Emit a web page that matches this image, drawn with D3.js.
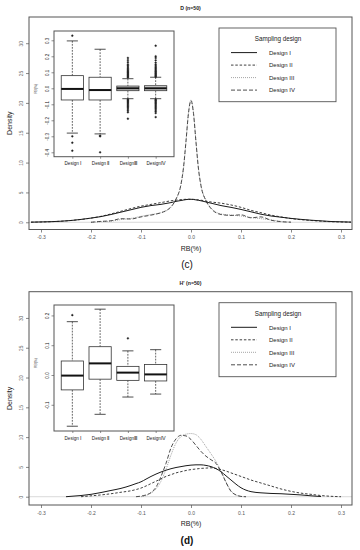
<!DOCTYPE html>
<html>
<head>
<meta charset="utf-8">
<script src="https://cdn.jsdelivr.net/npm/d3@7"></script>
<style>
  body { margin: 0; background: #fff; }
  text { font-family: "Liberation Sans", Arial, sans-serif; }
</style>
</head>
<body>
<div id="chart"></div>
<script>
// ---------- values ----------
var designs = ["Design I", "Design II", "Design III", "Design IV"];
var boxLabels = ["Design \u2160", "Design \u2161", "Design\u2162", "Design\u2163"];
var xTicks = [-0.3, -0.2, -0.1, 0, 0.1, 0.2, 0.3];
var yTicks = [0, 5, 10, 15, 20, 25, 30];

// panel (c): D (n=50)
var gridC = [-0.32, -0.28, -0.24, -0.2, -0.18, -0.16, -0.14, -0.12, -0.1, -0.08, -0.06, -0.05, -0.04, -0.03,
             -0.02, -0.015, -0.01, -0.005, 0, 0.005, 0.01, 0.015, 0.02, 0.03, 0.04, 0.05, 0.06, 0.08, 0.1,
             0.12, 0.14, 0.16, 0.18, 0.2, 0.24, 0.28, 0.32];
var densC1 = [0.02, 0.1, 0.3, 0.7, 0.95, 1.3, 1.7, 2.1, 2.5, 2.8, 3.0, 3.15, 3.3, 3.5,
              3.65, 3.72, 3.8, 3.84, 3.85, 3.82, 3.75, 3.68, 3.6, 3.4, 3.2, 3.0, 2.8, 2.5, 2.15,
              1.75, 1.35, 1.05, 0.85, 0.65, 0.35, 0.13, 0.03];
var densC2 = [0.02, 0.1, 0.3, 0.7, 1.0, 1.4, 1.85, 2.3, 2.7, 3.0, 3.3, 3.45, 3.6, 3.7,
              3.8, 3.83, 3.85, 3.86, 3.86, 3.84, 3.8, 3.75, 3.7, 3.55, 3.4, 3.3, 3.2, 2.9, 2.5,
              2.0, 1.6, 1.2, 0.9, 0.62, 0.3, 0.1, 0.02];
var densC3 = [null, null, null, 0.0, 0.1, 0.2, 0.45, 0.65, 1.0, 1.3, 1.6, 1.9, 2.5, 3.8,
              6.3, 9.0, 13.5, 18.4, 20.5, 18.4, 13.5, 9.0, 6.2, 3.7, 2.4, 1.7, 1.4, 1.2, 1.05,
              0.8, 0.6, 0.4, 0.15, 0.03, null, null, null];
var densC4 = [null, null, null, 0.0, 0.15, 0.25, 0.6, 0.55, 0.9, 1.2, 1.6, 1.95, 2.6, 3.9,
              6.4, 9.2, 13.6, 18.3, 20.4, 18.2, 13.4, 8.9, 6.1, 3.6, 2.3, 1.6, 1.3, 1.15, 1.25,
              0.75, 0.9, 0.35, 0.1, 0.02, null, null, null];
// box stats: low whisker, Q1, median, Q3, high whisker
var boxC = [[-0.28, -0.073, -0.004, 0.079, 0.296],
            [-0.285, -0.073, -0.011, 0.069, 0.244],
            [-0.065, -0.015, 0.0, 0.014, 0.06],
            [-0.065, -0.015, 0.0, 0.016, 0.069]];
var outC = [[0.329, -0.30, -0.34, -0.39],
            [-0.296, -0.30, -0.40],
            [0.068, 0.072, 0.078, 0.083, 0.088, 0.094, 0.099, 0.104, 0.11, 0.117, 0.125, 0.133, 0.142, 0.15,
             0.163, 0.176, 0.19, -0.07, -0.075, -0.081, -0.087, -0.093, -0.1, -0.108, -0.115, -0.122, -0.13,
             -0.14, -0.15, -0.19],
            [0.072, 0.077, 0.082, 0.088, 0.093, 0.099, 0.105, 0.11, 0.118, 0.125, 0.132, 0.14, 0.148, 0.16,
             0.175, 0.19, 0.2, 0.266, -0.07, -0.075, -0.08, -0.086, -0.092, -0.098, -0.105, -0.112, -0.12,
             -0.128, -0.136, -0.145, -0.155, -0.18]];
var boxTicksC = [-0.4, -0.3, -0.2, -0.1, 0, 0.1, 0.2, 0.3];

// panel (d): H' (n=50)
var gridD = [-0.25, -0.24, -0.22, -0.2, -0.18, -0.16, -0.14, -0.12, -0.11, -0.1, -0.09, -0.08, -0.07, -0.06,
             -0.05, -0.04, -0.03, -0.02, -0.01, 0, 0.01, 0.02, 0.03, 0.04, 0.05, 0.06, 0.07, 0.08, 0.09,
             0.1, 0.11, 0.12, 0.14, 0.16, 0.18, 0.2, 0.22, 0.24, 0.26, 0.28, 0.3];
var densD1 = [0.0, 0.07, 0.2, 0.4, 0.7, 1.05, 1.4, 1.9, 2.2, 2.5, 2.95, 3.4, 3.8, 4.15,
              4.45, 4.7, 4.9, 5.05, 5.2, 5.3, 5.35, 5.35, 5.25, 5.05, 4.7, 4.2, 3.5, 2.8, 2.1,
              1.5, 1.1, 0.85, 0.65, 0.55, 0.5, 0.4, 0.3, 0.15, 0.03, null, null];
var densD2 = [null, null, 0.0, 0.15, 0.3, 0.5, 0.75, 1.0, 1.2, 1.45, 1.8, 2.2, 2.6, 3.0,
              3.4, 3.7, 4.0, 4.2, 4.4, 4.55, 4.65, 4.75, 4.8, 4.85, 4.75, 4.55, 4.3, 4.0, 3.7,
              3.4, 3.1, 2.8, 2.3, 1.8, 1.3, 0.9, 0.6, 0.4, 0.2, 0.07, 0.0];
var densD3 = [null, null, null, null, null, null, null, null, null, 0.0, 0.2, 0.6, 1.3, 2.6,
              4.6, 7.0, 9.0, 10.1, 10.5, 10.6, 10.4, 9.6, 8.4, 7.2, 5.9, 4.3, 2.5, 1.0, 0.3,
              0.05, 0.0, null, null, null, null, null, null, null, null, null, null];
var densD4 = [null, null, null, null, null, null, null, null, 0.0, 0.1, 0.3, 0.7, 1.6, 3.4,
              5.6, 8.2, 9.7, 10.3, 10.2, 9.6, 8.6, 7.6, 6.8, 6.2, 5.6, 4.2, 2.4, 0.9, 0.3,
              0.05, 0.0, null, null, null, null, null, null, null, null, null, null];
var boxD = [[-0.172, -0.05, -0.002, 0.047, 0.179],
            [-0.132, -0.014, 0.039, 0.095, 0.221],
            [-0.074, -0.018, 0.008, 0.029, 0.081],
            [-0.064, -0.02, 0.002, 0.035, 0.085]];
var outD = [[0.201], [], [0.123], []];
var boxTicksD = [-0.1, 0, 0.1, 0.2];

// ---------- drawing ----------
var width = 360, height = 550;
var svg = d3.select("#chart").append("svg")
    .attr("width", width)
    .attr("height", height);

// line look of each design (solid, dashed, dotted, long dash)
var styles = [
  {color: "#1a1a1a", w: 1.0, dash: null},
  {color: "#2a2a2a", w: 0.9, dash: "2.5,1.8"},
  {color: "#9a9a9a", w: 0.9, dash: "1,1"},
  {color: "#3a3a3a", w: 0.9, dash: "4,2"}
];

var fmt1 = function(d) { return d.toFixed(1); };

function drawPanel(p) {
  var g = svg.append("g");

  var x = d3.scaleLinear().domain([-0.324, 0.322]).range([p.left, p.right]);
  var y = d3.scaleLinear().domain(p.yDomain).range([p.bottom, p.top]);

  // light line at zero density
  g.append("line")
    .attr("x1", p.left).attr("x2", p.right)
    .attr("y1", y(0)).attr("y2", y(0))
    .attr("stroke", "#cfcfcf").attr("stroke-width", 0.8);

  var line = d3.line()
    .defined(function(d) { return d[1] != null; })
    .x(function(d) { return x(d[0]); })
    .y(function(d) { return y(d[1]); })
    .curve(d3.curveMonotoneX);

  [2, 3, 1, 0].forEach(function(i) {
    var pts = p.grid.map(function(v, j) { return [v, p.curves[i][j]]; });
    g.append("path")
      .datum(pts)
      .attr("d", line)
      .attr("fill", "none")
      .attr("stroke", styles[i].color)
      .attr("stroke-width", styles[i].w)
      .attr("stroke-dasharray", styles[i].dash);
  });

  // X axis
  var gx = g.append("g")
    .attr("transform", "translate(0," + p.bottom + ")")
    .call(d3.axisBottom(x).tickValues(xTicks).tickSize(3).tickPadding(3).tickFormat(fmt1));
  gx.select(".domain").remove();
  gx.selectAll("line").attr("stroke", "#555").attr("stroke-width", 0.7);
  gx.selectAll("text").attr("font-size", 5).attr("fill", "#555")
    .attr("font-family", "Liberation Sans, Arial, sans-serif");

  // Y axis, labels turned like R
  var gy = g.append("g")
    .attr("transform", "translate(" + p.left + ",0)")
    .call(d3.axisLeft(y).tickValues(yTicks).tickSize(3));
  gy.select(".domain").remove();
  gy.selectAll("line").attr("stroke", "#555").attr("stroke-width", 0.7);
  gy.selectAll("text")
    .attr("transform", "rotate(-90)")
    .attr("x", 0).attr("y", -6.5).attr("dy", 0)
    .attr("text-anchor", "middle")
    .attr("font-size", 4.8).attr("fill", "#666")
    .attr("font-family", "Liberation Sans, Arial, sans-serif");

  // box
  g.append("rect")
    .attr("x", p.left).attr("y", p.top)
    .attr("width", p.right - p.left).attr("height", p.bottom - p.top)
    .attr("fill", "none").attr("stroke", "#555").attr("stroke-width", 1);

  // labels
  g.append("text")
    .attr("x", (p.left + p.right) / 2).attr("y", p.top - 7)
    .attr("text-anchor", "middle").attr("font-size", 5.2).attr("font-weight", "bold")
    .attr("fill", "#222")
    .text(p.title);
  g.append("text")
    .attr("transform", "translate(12," + ((p.top + p.bottom) / 2) + ")rotate(-90)")
    .attr("text-anchor", "middle").attr("font-size", 7).attr("fill", "#222")
    .text("Density");
  g.append("text")
    .attr("x", x(0)).attr("y", p.bottom + 21)
    .attr("text-anchor", "middle").attr("font-size", 7).attr("fill", "#222")
    .text("RB(%)");
  g.append("text")
    .attr("x", 187).attr("y", p.bottom + 38.5)
    .attr("text-anchor", "middle").attr("font-size", 10)
    .attr("font-family", "Liberation Serif, serif")
    .attr("font-weight", p.tagBold ? "bold" : "normal")
    .attr("fill", "#111")
    .text(p.tag);

  // ---- inset boxplot ----
  var ib = p.inset;
  var bx = d3.scaleLinear().domain([0.34, 4.66]).range([ib.left, ib.right]);
  var by = d3.scaleLinear().domain(ib.yDomain).range([ib.bottom, ib.top]);
  var gi = g.append("g");
  gi.append("rect")
    .attr("x", ib.left).attr("y", ib.top)
    .attr("width", ib.right - ib.left).attr("height", ib.bottom - ib.top)
    .attr("fill", "#fff");

  var half = (bx(1.4) - bx(1)) ;
  p.boxes.forEach(function(s, i) {
    var cx = bx(i + 1);
    // whiskers
    gi.append("line").attr("x1", cx).attr("x2", cx).attr("y1", by(s[4])).attr("y2", by(s[3]))
      .attr("stroke", "#222").attr("stroke-width", 0.7).attr("stroke-dasharray", "1.8,1.2");
    gi.append("line").attr("x1", cx).attr("x2", cx).attr("y1", by(s[1])).attr("y2", by(s[0]))
      .attr("stroke", "#222").attr("stroke-width", 0.7).attr("stroke-dasharray", "1.8,1.2");
    [s[0], s[4]].forEach(function(v) {
      gi.append("line").attr("x1", cx - half / 2).attr("x2", cx + half / 2)
        .attr("y1", by(v)).attr("y2", by(v))
        .attr("stroke", "#222").attr("stroke-width", 0.8);
    });
    gi.append("rect")
      .attr("x", cx - half).attr("y", by(s[3]))
      .attr("width", 2 * half).attr("height", by(s[1]) - by(s[3]))
      .attr("fill", i >= 2 && p.grayBoxes ? "#d8d8d8" : "#fff")
      .attr("stroke", "#333").attr("stroke-width", 0.8);
    gi.append("line").attr("x1", cx - half).attr("x2", cx + half)
      .attr("y1", by(s[2])).attr("y2", by(s[2]))
      .attr("stroke", "#111").attr("stroke-width", 2);
    gi.selectAll(null)
      .data(p.outliers[i])
      .enter()
      .append("circle")
      .attr("cx", cx).attr("cy", function(d) { return by(d); })
      .attr("r", 0.9)
      .attr("fill", "#222").attr("stroke", "#222").attr("stroke-width", 0.4);
  });

  var giy = gi.append("g")
    .attr("transform", "translate(" + ib.left + ",0)")
    .call(d3.axisLeft(by).tickValues(ib.ticks).tickSize(2.5));
  giy.select(".domain").remove();
  giy.selectAll("line").attr("stroke", "#444").attr("stroke-width", 0.6);
  giy.selectAll("text")
    .attr("transform", "rotate(-90)")
    .attr("x", 0).attr("y", -5).attr("dy", 0)
    .attr("text-anchor", "middle")
    .attr("font-size", 4.5).attr("fill", "#222")
    .attr("font-family", "Liberation Sans, Arial, sans-serif")
    .text(function(d) { return fmt1(d); });

  var gix = gi.append("g")
    .attr("transform", "translate(0," + ib.bottom + ")")
    .call(d3.axisBottom(bx).tickValues([1, 2, 3, 4]).tickSize(2)
      .tickFormat(function(d) { return boxLabels[d - 1]; }));
  gix.select(".domain").remove();
  gix.selectAll("line").attr("stroke", "#444").attr("stroke-width", 0.6);
  gix.selectAll("text")
    .attr("font-size", 4.6).attr("fill", "#222")
    .attr("font-family", "Liberation Sans, Arial, sans-serif")
    .attr("y", 5.5);

  gi.append("text")
    .attr("transform", "translate(36.5," + ((ib.top + ib.bottom) / 2 - 5) + ")rotate(-90)")
    .attr("text-anchor", "middle").attr("font-size", 3.4).attr("fill", "#444")
    .text("RB(%)");

  gi.append("rect")
    .attr("x", ib.left).attr("y", ib.top)
    .attr("width", ib.right - ib.left).attr("height", ib.bottom - ib.top)
    .attr("fill", "none").attr("stroke", "#555").attr("stroke-width", 1);

  // ---- legend ----
  var lg = p.legend;
  var gl = g.append("g");
  gl.append("rect")
    .attr("x", lg.left).attr("y", lg.top)
    .attr("width", lg.right - lg.left).attr("height", lg.bottom - lg.top)
    .attr("fill", "#fff").attr("stroke", "#555").attr("stroke-width", 0.9);
  gl.append("text")
    .attr("x", (lg.left + lg.right) / 2 + 0.5).attr("y", lg.top + 13)
    .attr("text-anchor", "middle").attr("font-size", 6.3).attr("fill", "#222")
    .text("Sampling design");
  designs.forEach(function(name, i) {
    var yy = lg.top + 24.6 + i * 12.5;
    gl.append("line")
      .attr("x1", lg.left + 12).attr("x2", lg.left + 38)
      .attr("y1", yy).attr("y2", yy)
      .attr("stroke", styles[i].color)
      .attr("stroke-width", styles[i].w)
      .attr("stroke-dasharray", styles[i].dash);
    gl.append("text")
      .attr("x", lg.left + 50).attr("y", yy + 2.2)
      .attr("font-size", 6).attr("fill", "#222")
      .text(name);
  });
}

drawPanel({
  title: "D (n=50)", tag: "(c)", tagBold: false,
  left: 29, right: 352, top: 17, bottom: 229.5,
  yDomain: [-1.21, 34.39],
  grid: gridC, curves: [densC1, densC2, densC3, densC4],
  boxes: boxC, outliers: outC, grayBoxes: true,
  inset: {left: 54, right: 174, top: 31, bottom: 156.7, yDomain: [-0.4275, 0.358], ticks: boxTicksC},
  legend: {left: 219, right: 336, top: 28, bottom: 101.7}
});

drawPanel({
  title: "H' (n=50)", tag: "(d)", tagBold: true,
  left: 29, right: 352, top: 291.7, bottom: 505,
  yDomain: [-1.39, 34.4],
  grid: gridD, curves: [densD1, densD2, densD3, densD4],
  boxes: boxD, outliers: outD, grayBoxes: false,
  inset: {left: 54, right: 174, top: 305, bottom: 431, yDomain: [-0.188, 0.235], ticks: boxTicksD},
  legend: {left: 219, right: 336, top: 302.7, bottom: 376.7}
});
</script>
</body>
</html>
